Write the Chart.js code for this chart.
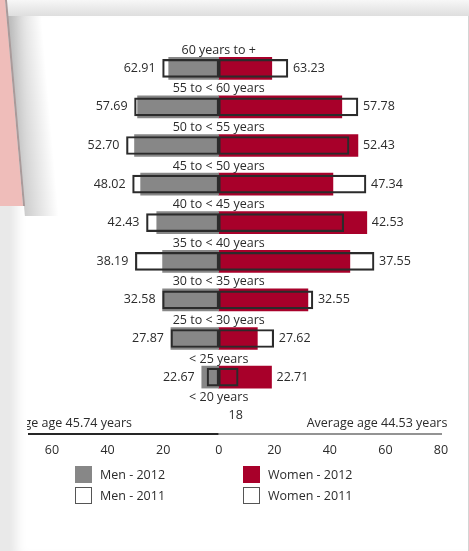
<!DOCTYPE html>
<html lang="en">
<head>
<meta charset="UTF-8">
<title>Average age by age group, men and women</title>
<script src="https://cdn.jsdelivr.net/npm/chart.js"></script>
<style>
  html, body { margin:0; padding:0; }
  body { width:469px; height:551px; overflow:hidden; position:relative; background:#e9e9e9; font-family:"Open Sans", sans-serif; color:#2b2b2b; }
  .topband { position:absolute; left:0; top:0; width:469px; height:16px; background:linear-gradient(#f7f7f7, #dedede); }
  .card { position:absolute; left:10px; top:16px; width:458px; height:535px; background:#fff; border-right:1px solid #d4d4d4;
          box-shadow: inset 14px 0 12px -8px rgba(0,0,0,0.10); }
  .sheet { position:absolute; left:0; top:0; width:80px; height:215px; transform:skewX(5deg); transform-origin:0 0; }
  .sheet .paper { position:absolute; left:-40px; top:0; width:45px; height:206px; background:#efbdba; }
  .sheet .edge { position:absolute; left:5px; top:0; width:1.5px; height:206px; background:#a99a9a; }
  .sheet .shade { position:absolute; left:6px; top:16px; width:34px; height:200px; background:linear-gradient(to right, rgba(0,0,0,0.20), rgba(0,0,0,0)); }
  #wrap { position:absolute; left:27px; top:16px; width:442px; height:453px; }
  .legend { position:absolute; left:75px; top:466px; display:grid; grid-template-columns:168px 168px; row-gap:4px; font-size:12.5px; }
  .legend div { display:flex; align-items:center; height:17px; }
  .legend span.box { width:17px; height:17px; box-sizing:border-box; margin-right:8px; }
</style>
</head>
<body>
  <div class="topband"></div>
  <div class="card"></div>
  <div class="sheet"><div class="paper"></div><div class="shade"></div><div class="edge"></div></div>
  <div id="wrap"><canvas id="pyramid" width="442" height="453"></canvas></div>
  <div class="legend" id="legend"></div>
  <script>
    // age groups, top to bottom
    const categories = ['60 years to +', '55 to < 60 years', '50 to < 55 years', '45 to < 50 years', '40 to < 45 years',
                        '35 to < 40 years', '30 to < 35 years', '25 to < 30 years', '< 25 years', '< 20 years'];
    // bar lengths
    const men2012   = [18.0, 29.2, 30.3, 28.1, 22.3, 20.2, 20.2, 17.2, 6.1, null];
    const men2011   = [20.2, 30.3, 33.2, 31.0, 26.0, 30.0, 20.2, 17.2, 4.2, null];
    const women2012 = [19.1, 44.3, 50.1, 41.1, 53.3, 47.2, 32.1, 13.9, 19.0, null];
    const women2011 = [24.9, 50.1, 46.9, 53.0, 45.0, 55.9, 33.9, 19.8, 7.0, null];
    // printed values next to the bars
    const menValues   = ['62.91', '57.69', '52.70', '48.02', '42.43', '38.19', '32.58', '27.87', '22.67', ''];
    const womenValues = ['63.23', '57.78', '52.43', '47.34', '42.53', '37.55', '32.55', '27.62', '22.71', ''];
    const youngestNote = '18';
    const menAverage = 'Average age 45.74 years';
    const womenAverage = 'Average age 44.53 years';
    const xTicks = [-60, -40, -20, 0, 20, 40, 60, 80];

    const GREY = '#878787', RED = '#a8002a', INK = '#2b2b2b';
    const FONT = { family: '"Open Sans", sans-serif', size: 12.5 };
    const fontStr = FONT.size + 'px ' + FONT.family;
    const neg = a => a.map(v => v === null ? null : -v);

    const labelsPlugin = {
      id: 'pyramidLabels',
      afterDatasetsDraw(chart) {
        const { ctx, scales: { x, y }, chartArea } = chart;
        const band = (y.getPixelForValue(1) - y.getPixelForValue(0));
        ctx.save();
        ctx.font = fontStr;
        ctx.fillStyle = INK;
        ctx.textBaseline = 'middle';
        categories.forEach((c, i) => {
          const cy = y.getPixelForValue(i);
          ctx.textAlign = 'center';
          ctx.fillText(c, x.getPixelForValue(0), cy - band * 0.47);
          if (menValues[i]) {
            const m = Math.max(men2012[i] || 0, men2011[i] || 0);
            ctx.textAlign = 'right';
            ctx.fillText(menValues[i], x.getPixelForValue(-m) - 7, cy);
          }
          if (womenValues[i]) {
            const w = Math.max(women2012[i] || 0, women2011[i] || 0);
            ctx.textAlign = 'left';
            ctx.fillText(womenValues[i], x.getPixelForValue(w) + 5, cy);
          }
        });
        const last = y.getPixelForValue(categories.length - 1);
        ctx.textAlign = 'center';
        ctx.fillText(youngestNote, x.getPixelForValue(6.1), last);
        ctx.textAlign = 'right';
        ctx.fillText(menAverage, x.getPixelForValue(-31.2), chartArea.bottom - 12);
        ctx.fillText(womenAverage, x.getPixelForValue(82.3), chartArea.bottom - 12);
        // axis line: dark on the men side, grey on the women side
        const zero = x.getPixelForValue(0);
        ctx.lineWidth = 2;
        ctx.strokeStyle = '#262626';
        ctx.beginPath(); ctx.moveTo(1, chartArea.bottom - 1); ctx.lineTo(zero, chartArea.bottom - 1); ctx.stroke();
        ctx.lineWidth = 1.5;
        ctx.strokeStyle = '#6f6f6f';
        ctx.beginPath(); ctx.moveTo(zero, chartArea.bottom - 1); ctx.lineTo(x.getPixelForValue(80) + 1, chartArea.bottom - 1); ctx.stroke();
        ctx.restore();
      }
    };

    const outline = { backgroundColor: 'rgba(0,0,0,0)', borderColor: INK, borderWidth: 1.5, borderSkipped: false, barThickness: 18, grouped: false, order: 0 };
    const filled = { borderWidth: 0, barThickness: 22, grouped: false, order: 1 };

    const ctx = document.getElementById('pyramid').getContext('2d');
    const chart = new Chart(ctx, {
      type: 'bar',
      data: {
        labels: categories,
        datasets: [
          { label: 'Men - 2011', data: neg(men2011), ...outline },
          { label: 'Women - 2011', data: women2011, ...outline },
          { label: 'Men - 2012', data: neg(men2012), backgroundColor: GREY, ...filled },
          { label: 'Women - 2012', data: women2012, backgroundColor: RED, ...filled }
        ]
      },
      options: {
        indexAxis: 'y',
        responsive: false,
        animation: false,
        layout: { padding: { left: 0, right: 28, top: 33, bottom: 3 } },
        plugins: { legend: { display: false }, tooltip: { enabled: false } },
        scales: {
          x: {
            min: -69, max: 80,
            grid: { display: false, drawTicks: false },
            border: { display: false },
            afterBuildTicks: s => { s.ticks = xTicks.map(v => ({ value: v })); },
            ticks: { callback: v => Math.abs(v), color: INK, font: FONT, padding: 8, autoSkip: false, maxRotation: 0 }
          },
          y: { display: false }
        }
      },
      plugins: [labelsPlugin]
    });

    // legend laid out as two columns like the original
    const legendOrder = ['Men - 2012', 'Women - 2012', 'Men - 2011', 'Women - 2011'];
    const legend = document.getElementById('legend');
    legendOrder.forEach(name => {
      const ds = chart.data.datasets.find(d => d.label === name);
      const isOutline = ds.order === 0;
      const style = isOutline ? 'border:1.5px solid #555;background:#fff' : 'background:' + ds.backgroundColor;
      legend.innerHTML += `<div><span class="box" style="${style}"></span>${name}</div>`;
    });
  </script>
</body>
</html>
